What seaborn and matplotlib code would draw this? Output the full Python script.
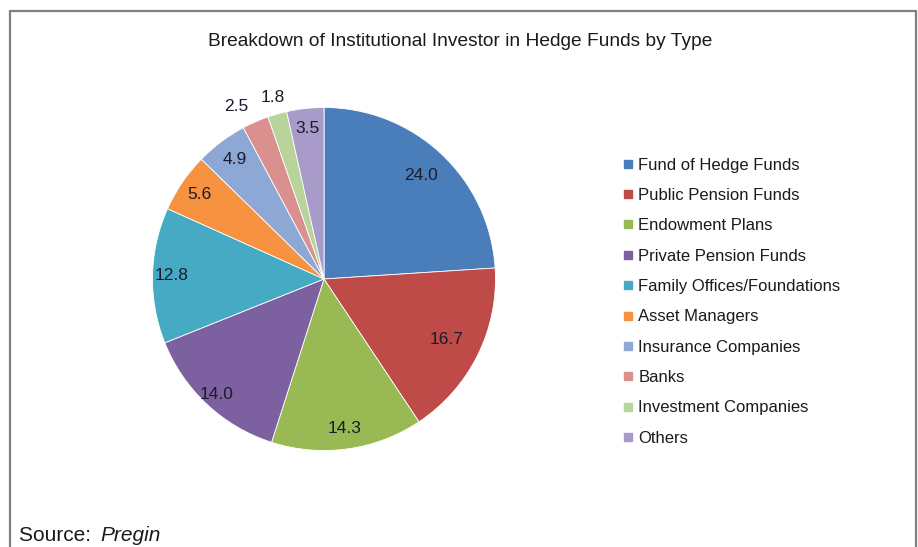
import matplotlib
matplotlib.use("Agg")
import matplotlib.pyplot as plt
import seaborn as sns
import numpy as np
from matplotlib.lines import Line2D

categories = ["Fund of Hedge Funds", "Public Pension Funds", "Endowment Plans",
              "Private Pension Funds", "Family Offices/Foundations", "Asset Managers",
              "Insurance Companies", "Banks", "Investment Companies", "Others"]
values = [24.0, 16.7, 14.3, 14.0, 12.8, 5.6, 4.9, 2.5, 1.8, 3.5]
value_labels = ["24.0", "16.7", "14.3", "14.0", "12.8", "5.6", "4.9", "2.5", "1.8", "3.5"]

colors = ["#4A7EBB", "#BE4B48", "#98B954", "#7D60A0", "#46AAC5", "#F69240",
          "#8EA8D6", "#D9908F", "#B8D49A", "#A99BC9"]
label_radius = [0.83, 0.8, 0.88, 0.92, 0.89, 0.88, 0.87, 1.1, 1.1, 0.88]
label_ha = ["center"] * 7 + ["right", "center", "center"]
title_text = "Breakdown of Institutional Investor in Hedge Funds by Type"

sns.set_theme(style="white")
plt.rcParams["font.family"] = ["Liberation Sans", "DejaVu Sans"]

W, H = 918, 547
fig = plt.figure(figsize=(W / 100, H / 100), dpi=100)
fig.patch.set_facecolor("white")

cx, cy, r = 324, 279, 171.5
ax = fig.add_axes([(cx - r) / W, (H - cy - r) / H, 2 * r / W, 2 * r / H])
palette = sns.color_palette(colors)
wedges, _ = ax.pie(values, colors=palette, startangle=90, counterclock=False,
                   wedgeprops=dict(edgecolor="white", linewidth=0.6))
ax.set_xlim(-1, 1)
ax.set_ylim(-1, 1)
ax.set_aspect("equal")
ax.axis("off")

for w, lab, rf, ha in zip(wedges, value_labels, label_radius, label_ha):
    ang = np.deg2rad((w.theta1 + w.theta2) / 2)
    ax.text(rf * np.cos(ang), rf * np.sin(ang), lab, ha=ha, va="center",
            fontsize=12.5, color="#1b1b2b", clip_on=False)

fig.text(460 / W, 1 - 42 / H, title_text, ha="center", va="center",
         fontsize=13.8, color="#1a1a1a")

handles = [Line2D([0], [0], marker="s", linestyle="none", markersize=6,
                  markerfacecolor=c, markeredgecolor=c) for c in palette]
leg = fig.legend(handles, categories, loc="upper left",
                 bbox_to_anchor=(616 / W, 1 - 151 / H), frameon=False,
                 fontsize=12, handlelength=0.6, handletextpad=0.35,
                 labelspacing=0.92, borderaxespad=0)
for t in leg.get_texts():
    t.set_color("#1a1a1a")

fig.text(19 / W, 1 - 541 / H, "Source: ", ha="left", va="baseline",
         fontsize=15, color="#1a1a1a")
fig.text(100 / W, 1 - 541 / H, "Pregin", ha="left", va="baseline",
         fontsize=15, style="italic", color="#1a1a1a")

bc = "#7f7f7f"
fig.add_artist(Line2D([10 / W, 10 / W], [0, 1 - 11 / H], color=bc, lw=1.6,
                      transform=fig.transFigure))
fig.add_artist(Line2D([10 / W, 916 / W], [1 - 11 / H, 1 - 11 / H], color=bc, lw=1.6,
                      transform=fig.transFigure))
fig.add_artist(Line2D([916 / W, 916 / W], [0, 1 - 11 / H], color=bc, lw=1.6,
                      transform=fig.transFigure))

fig.savefig("out.png", dpi=100, facecolor="white")
